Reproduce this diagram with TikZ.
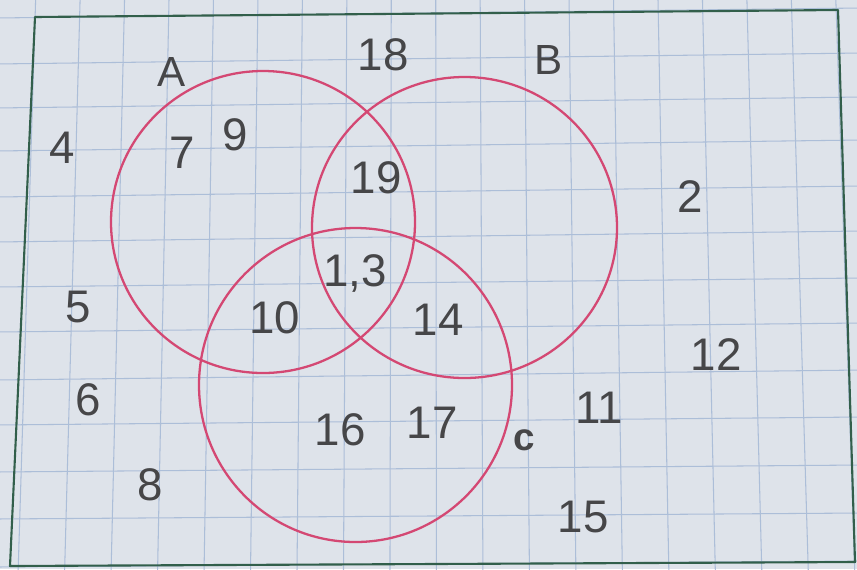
\documentclass[tikz,border=0pt]{standalone}
\usepackage{fontspec}
\setmainfont{Liberation Sans}
\definecolor{paper}{RGB}{222,227,234}
\definecolor{gridc}{RGB}{172,190,216}
\definecolor{framec}{RGB}{50,95,75}
\definecolor{ink}{RGB}{70,70,72}
\definecolor{pen}{RGB}{212,72,115}
\begin{document}
\begin{tikzpicture}[x=0.02cm,y=-0.02cm,
  gridline/.style={draw=gridc, line width=0.6pt},
  frameline/.style={draw=framec, line width=1.2pt, line join=round},
  setline/.style={draw=pen, line width=1.3pt},
  lbl/.style={text=ink, inner sep=0pt, font=\fontsize{26}{28}\selectfont},
  setlbl/.style={lbl, font=\fontsize{24}{26}\selectfont}]
% paper
\fill[paper] (0,0) rectangle (857,569);
\useasboundingbox (0,0) rectangle (857,569);
\begin{scope}
\clip (0,0) rectangle (857,569);
% vertical grid lines
\foreach \k in {0,...,18}{
  \draw[gridline] ({35.93+44.42*\k},-10) -- ({17.86+46.51*\k},580);
}
% horizontal grid lines
\foreach \l/\r in {18/8,64/53,108/97,151/140,197/186,242/231,287/278,332/323,380/370,425/417,472/465,519/513,567/561}{
  \draw[gridline] (-5,\l) -- (862,\r);
}
\end{scope}
% frame
\draw[frameline] (35,17) -- (838,10) -- (855,562) -- (10,566) -- cycle;
% sets
\draw[setline] (263,222) ellipse[x radius=152, y radius=151];
\draw[setline] (464.5,227.5) ellipse[x radius=152.5, y radius=150.5];
\draw[setline] (355.5,385) ellipse[x radius=156.5, y radius=157];
% set labels
\node[setlbl] (lA) at (172,72) {A};
\node[setlbl] (lB) at (549,60) {B};
\node[lbl, font=\fontsize{22}{24}\selectfont\bfseries] (lC) at (524,440) {c};
% elements
\node[lbl] (n18) at (383,55) {18};
\node[lbl] (n4) at (62,148) {4};
\node[lbl] (n7) at (182,153) {7};
\node[lbl] (n9) at (235,135) {9};
\node[lbl] (n19) at (376,178) {19};
\node[lbl] (n2) at (690,197) {2};
\node[lbl] (n13) at (355,273) {1,3};
\node[lbl] (n5) at (78,307) {5};
\node[lbl] (n10) at (275,318) {10};
\node[lbl] (n14) at (438,320) {14};
\node[lbl] (n12) at (716,355) {12};
\node[lbl] (n6) at (88,400) {6};
\node[lbl] (n16) at (340,430) {16};
\node[lbl] (n17) at (432,423) {17};
\node[lbl] (n11) at (599,408) {11};
\node[lbl] (n8) at (150,485) {8};
\node[lbl] (n15) at (583,517) {15};
\end{tikzpicture}
\end{document}
